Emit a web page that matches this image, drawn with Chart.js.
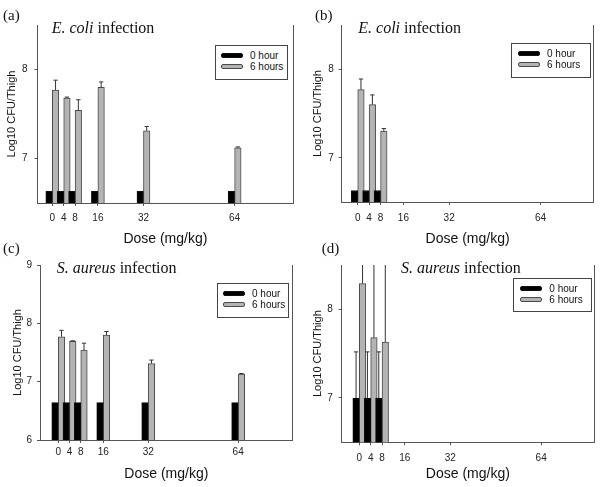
<!DOCTYPE html>
<html>
<head>
<meta charset="utf-8">
<script src="https://cdn.jsdelivr.net/npm/chart.js@4.4.1/dist/chart.umd.min.js"></script>
<style>
    body { margin: 0; background: #fff; }
    #fig { position: relative; width: 600px; height: 487px; overflow: hidden; }
    .panel { position: absolute; }
    .panel canvas { position: absolute; left: 0; top: 0; }
    .tag { position: absolute; font: 15px "Liberation Serif", "Times New Roman", serif; line-height: 15px; color: #111; }
    .ttl { position: absolute; font: 16px "Liberation Serif", "Times New Roman", serif; line-height: 16px; color: #111; white-space: nowrap; }
    .lgd { position: absolute; box-sizing: border-box; border: 1px solid #444; background: #fff; padding-top: 4px;
           font: 10px "Liberation Sans", Arial, sans-serif; color: #111; }
    .lgd div { height: 11px; line-height: 11px; display: flex; align-items: center; white-space: nowrap; }
    .lgd span.sw { display: inline-block; box-sizing: border-box; width: 22px; height: 5px; margin-right: 7px; border-radius: 2px; }
</style>
</head>
<body>
<div id="fig"></div>
<script>
// series names
const hourLabels = ["0 hour", "6 hours"];
const doseTicks = [0, 4, 8, 16, 32, 64];

// (a) E. coli, all doses
const dosesA = [0, 4, 8, 16, 32, 64];
const ecoliA0h = [6.63, 6.63, 6.63, 6.63, 6.63, 6.63];
const ecoliA6h = [7.77, 7.68, 7.54, 7.80, 7.31, 7.12];
const ecoliA6hErr = [0.11, 0.01, 0.12, 0.06, 0.05, 0.01];

// (b) E. coli, low doses
const dosesB = [0, 4, 8];
const ecoliB0h = [6.63, 6.63, 6.63];
const ecoliB6h = [7.77, 7.60, 7.30];
const ecoliB6hErr = [0.12, 0.11, 0.03];

// (c) S. aureus, all doses
const dosesC = [0, 4, 8, 16, 32, 64];
const aureusC0h = [6.64, 6.64, 6.64, 6.64, 6.64, 6.64];
const aureusC6h = [7.77, 7.69, 7.54, 7.80, 7.31, 7.13];
const aureusC6hErr = [0.11, 0.01, 0.12, 0.06, 0.06, 0.01];

// (d) S. aureus, low doses
const dosesD = [0, 4, 8];
const aureusD0h = [7.0, 7.0, 7.0];
const aureusD0hErr = [0.52, 0.52, 0.52];
const aureusD6h = [8.29, 7.68, 7.63];
const aureusD6hErr = [0.9, 1.2, 1.3];

const yTicksA = [7, 8];
const yTicksC = [6, 7, 8, 9];

const sans = '"Liberation Sans", Arial, sans-serif';
const axisColor = '#555';

// error bars (upper side only), clipped to the plot area
const errorBars = {
    id: 'errorBars',
    afterDatasetsDraw(chart) {
        const {ctx, chartArea, scales} = chart;
        ctx.save();
        ctx.beginPath();
        ctx.rect(chartArea.left, chartArea.top, chartArea.width, chartArea.height);
        ctx.clip();
        ctx.strokeStyle = '#333';
        ctx.lineWidth = 1;
        chart.data.datasets.forEach((ds, di) => {
            if (!ds.errors) {
                return;
            }
            chart.getDatasetMeta(di).data.forEach((bar, i) => {
                const err = ds.errors[i];
                if (!err) {
                    return;
                }
                const top = scales.y.getPixelForValue(ds.data[i].y + err);
                const cap = bar.width / 3;
                ctx.beginPath();
                ctx.moveTo(bar.x, bar.y);
                ctx.lineTo(bar.x, top);
                ctx.moveTo(bar.x - cap, top);
                ctx.lineTo(bar.x + cap, top);
                ctx.stroke();
            });
        });
        ctx.restore();
    }
};

function addText(box, cls, html, css) {
    const el = document.createElement('div');
    el.className = cls;
    el.innerHTML = html;
    Object.assign(el.style, css);
    box.appendChild(el);
    return el;
}

function panel(p) {
    const fig = document.getElementById('fig');
    const box = document.createElement('div');
    box.className = 'panel';
    Object.assign(box.style, {left: p.left + 'px', top: p.top + 'px', width: p.w + 'px', height: p.h + 'px'});
    const canvas = document.createElement('canvas');
    canvas.width = p.w;
    canvas.height = p.h;
    box.appendChild(canvas);
    fig.appendChild(box);

    const colors = ['#000000', '#b4b4b4'];
    const borders = ['#111111', '#4a4a4a'];
    const series = [p.h0, p.h6];
    const errs = [p.h0Err, p.h6Err];

    new Chart(canvas, {
        type: 'bar',
        data: {
            datasets: series.map((vals, k) => ({
                label: hourLabels[k],
                data: vals.map((v, i) => ({x: p.doses[i], y: v})),
                errors: errs[k],
                backgroundColor: colors[k],
                borderColor: borders[k],
                borderWidth: 1,
                barThickness: 6.5
            }))
        },
        options: {
            responsive: false,
            animation: false,
            events: [],
            layout: {padding: {top: p.area.top, right: p.w - p.area.right, bottom: 0, left: 0}},
            plugins: {legend: {display: false}, tooltip: {enabled: false}},
            scales: {
                x: {
                    type: 'linear',
                    min: p.xMin,
                    max: p.xMax,
                    offset: false,
                    afterBuildTicks: (s) => { s.ticks = doseTicks.map((v) => ({value: v})); },
                    afterFit: (s) => { s.height = p.h - p.area.bottom; },
                    grid: {offset: false, drawOnChartArea: false, tickLength: 3, color: axisColor},
                    border: {color: axisColor},
                    ticks: {font: {family: sans, size: 10}, color: '#222', padding: p.xPad, maxRotation: 0},
                    title: {display: true, text: 'Dose (mg/kg)', color: '#111',
                        font: {family: sans, size: 14}, padding: {top: 0, bottom: p.xTitle}}
                },
                y: {
                    min: p.yMin,
                    max: p.yMax,
                    afterBuildTicks: (s) => { s.ticks = p.yTicks.map((v) => ({value: v})); },
                    afterFit: (s) => { s.width = p.area.left; },
                    grid: {drawOnChartArea: false, tickLength: 3, color: axisColor},
                    border: {color: axisColor},
                    ticks: {font: {family: sans, size: 10}, color: '#222', padding: p.yPad},
                    title: {display: true, text: 'Log10 CFU/Thigh', color: '#111',
                        font: {family: sans, size: 11}, padding: {top: p.yTitle, bottom: 0}}
                },
                y2: {
                    position: 'right',
                    min: p.yMin,
                    max: p.yMax,
                    afterFit: (s) => { s.width = 0; },
                    grid: {display: false},
                    border: {color: axisColor},
                    ticks: {display: false}
                }
            }
        },
        plugins: [errorBars]
    });

    addText(box, 'tag', p.tag, {left: p.tagPos[0] + 'px', top: p.tagPos[1] + 'px'});
    addText(box, 'ttl', p.title, {left: p.titlePos[0] + 'px', top: p.titlePos[1] + 'px'});
    const lgd = addText(box, 'lgd', '', {left: p.lgd[0] + 'px', top: p.lgd[1] + 'px',
        width: p.lgd[2] + 'px', height: p.lgd[3] + 'px', paddingLeft: p.lgd[4] + 'px'});
    hourLabels.forEach((name, k) => {
        const row = document.createElement('div');
        row.innerHTML = '<span class="sw" style="background:' + colors[k] + ';border:1px solid ' +
            borders[k] + '"></span>' + name;
        lgd.appendChild(row);
    });
}

panel({
    left: 0, top: 0, w: 300, h: 250,
    area: {left: 37.5, right: 293.3, top: 25, bottom: 203},
    xMin: -5.2, xMax: 84.6, yMin: 6.5, yMax: 8.5, yTicks: yTicksA,
    doses: dosesA, h0: ecoliA0h, h0Err: null, h6: ecoliA6h, h6Err: ecoliA6hErr,
    xPad: 6, xTitle: 2.6, yTitle: 5.7, yPad: 7,
    tag: '(a)', tagPos: [3, 8],
    title: '<i>E. coli</i> infection', titlePos: [51.7, 20],
    lgd: [215, 45, 73, 35, 5]
});

panel({
    left: 300, top: 0, w: 300, h: 250,
    area: {left: 41.7, right: 293.5, top: 25, bottom: 202},
    xMin: -5.6, xMax: 82.5, yMin: 6.5, yMax: 8.5, yTicks: yTicksA,
    doses: dosesB, h0: ecoliB0h, h0Err: null, h6: ecoliB6h, h6Err: ecoliB6hErr,
    xPad: 7, xTitle: 2.6, yTitle: 11.4, yPad: 5,
    tag: '(b)', tagPos: [15, 8],
    title: '<i>E. coli</i> infection', titlePos: [58.3, 20],
    lgd: [211, 43, 80, 35, 6]
});

panel({
    left: 0, top: 240, w: 300, h: 247,
    area: {left: 40, right: 292.7, top: 25, bottom: 200},
    xMin: -6.5, xMax: 83.4, yMin: 6, yMax: 9, yTicks: yTicksC,
    doses: dosesC, h0: aureusC0h, h0Err: null, h6: aureusC6h, h6Err: aureusC6hErr,
    xPad: 3.5, xTitle: 4.1, yTitle: 11.1, yPad: 5,
    tag: '(c)', tagPos: [3, 1],
    title: '<i>S. aureus</i> infection', titlePos: [56.7, 20],
    lgd: [217, 43.3, 72, 35, 5]
});

panel({
    left: 300, top: 240, w: 300, h: 247,
    area: {left: 41.7, right: 294, top: 25, bottom: 202.3},
    xMin: -6.2, xMax: 82.6, yMin: 6.5, yMax: 8.5, yTicks: yTicksA,
    doses: dosesD, h0: aureusD0h, h0Err: aureusD0hErr, h6: aureusD6h, h6Err: aureusD6hErr,
    xPad: 6.5, xTitle: 4.6, yTitle: 11.4, yPad: 6,
    tag: '(d)', tagPos: [21.7, 1],
    title: '<i>S. aureus</i> infection', titlePos: [101, 20],
    lgd: [213.3, 38.3, 79, 34, 6]
});
</script>
</body>
</html>
